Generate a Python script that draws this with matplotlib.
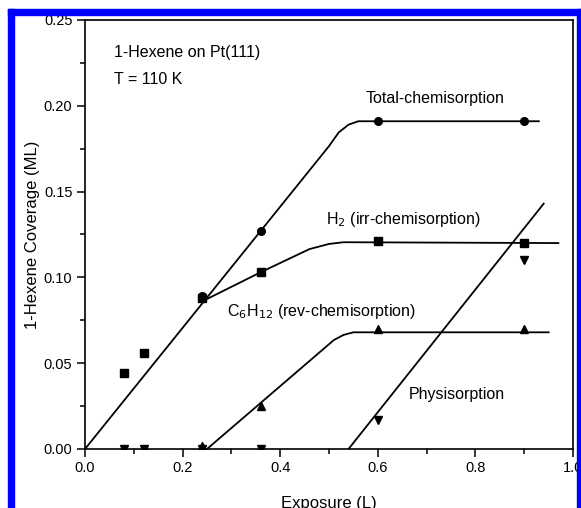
import matplotlib
matplotlib.use("Agg")
import matplotlib.pyplot as plt
from matplotlib.patches import Rectangle
import numpy as np

plt.rcParams['font.family'] = ['Liberation Sans', 'DejaVu Sans']

# measured points
total_x = [0.24, 0.36, 0.60, 0.90]
total_y = [0.089, 0.127, 0.191, 0.191]
h2_x = [0.08, 0.12, 0.24, 0.36, 0.60, 0.90]
h2_y = [0.044, 0.056, 0.088, 0.103, 0.121, 0.120]
c6_x = [0.08, 0.12, 0.24, 0.36, 0.60, 0.90]
c6_y = [0.000, 0.000, 0.002, 0.025, 0.070, 0.070]
phys_x = [0.08, 0.12, 0.24, 0.36, 0.60, 0.90]
phys_y = [0.000, 0.000, 0.000, 0.000, 0.017, 0.110]

# guide lines
total_line_x = [0.0, 0.50, 0.52, 0.54, 0.56, 0.93]
total_line_y = [0.0, 0.1765, 0.1845, 0.189, 0.191, 0.191]
h2_line_x = [0.24, 0.36, 0.46, 0.50, 0.53, 0.97]
h2_line_y = [0.086, 0.103, 0.1165, 0.1195, 0.1205, 0.120]
c6_line_x = [0.25, 0.51, 0.53, 0.55, 0.95]
c6_line_y = [0.0, 0.0635, 0.0665, 0.068, 0.068]
phys_line_x = [0.54, 0.94]
phys_line_y = [0.0, 0.143]

fig = plt.figure(figsize=(5.81, 5.08), dpi=100)
W, H = 581, 508
ax = fig.add_axes([85 / W, 1 - 449 / H, (573 - 85) / W, (449 - 20) / H])

lk = dict(color='black', lw=1.3)
ax.plot(total_line_x, total_line_y, **lk)
ax.plot(h2_line_x, h2_line_y, **lk)
ax.plot(c6_line_x, c6_line_y, **lk)
ax.plot(phys_line_x, phys_line_y, **lk)

ms = 5.5
ax.plot(total_x, total_y, 'o', color='black', ms=ms, ls='none')
ax.plot(h2_x, h2_y, 's', color='black', ms=ms, ls='none')
ax.plot(c6_x, c6_y, '^', color='black', ms=ms + 0.5, ls='none')
ax.plot(phys_x, phys_y, 'v', color='black', ms=ms + 0.5, ls='none')

ax.set_xlim(0, 1.0)
ax.set_ylim(0, 0.25)
ax.set_xticks([0.0, 0.2, 0.4, 0.6, 0.8, 1.0])
ax.set_xticklabels(['0.0', '0.2', '0.4', '0.6', '0.8', '1.0'])
ax.set_xticks(np.arange(0.1, 1.0, 0.2), minor=True)
ax.set_yticks([0.0, 0.05, 0.10, 0.15, 0.20, 0.25])
ax.set_yticklabels(['0.00', '0.05', '0.10', '0.15', '0.20', '0.25'])
ax.set_yticks(np.arange(0.025, 0.25, 0.05), minor=True)
ax.tick_params(which='major', direction='out', length=6, width=1.1, labelsize=10.5, pad=3)
ax.tick_params(which='minor', direction='out', length=3.5, width=1.1)
for s in ax.spines.values():
    s.set_linewidth(1.2)

ax.set_xlabel('Exposure (L)', fontsize=12, labelpad=15)
ax.set_ylabel('1-Hexene Coverage (ML)', fontsize=12, labelpad=3)

fs = 11.5
ax.text(0.06, 0.925, '1-Hexene on Pt(111)', transform=ax.transAxes, fontsize=fs, va='center')
ax.text(0.06, 0.862, 'T = 110 K', transform=ax.transAxes, fontsize=fs, va='center')
ax.text(0.575, 0.204, 'Total-chemisorption', fontsize=fs, va='center')
ax.text(0.494, 0.134, r'H$_2$ (irr-chemisorption)', fontsize=fs, va='center')
ax.text(0.292, 0.080, r'C$_6$H$_{12}$ (rev-chemisorption)', fontsize=fs, va='center')
ax.text(0.664, 0.032, 'Physisorption', fontsize=fs, va='center')

# blue frame of the source picture
blue = '#0000ff'
fig.patches.append(Rectangle((0, 1 - 9 / H), 1, 9 / H, transform=fig.transFigure,
                             color='white', zorder=10))
fig.patches.append(Rectangle((0, 0), 8 / W, 1, transform=fig.transFigure,
                             color='white', zorder=10))
fig.patches.append(Rectangle((8 / W, 0), 6 / W, 1 - 9 / H, transform=fig.transFigure,
                             color=blue, zorder=11))
fig.patches.append(Rectangle((8 / W, 1 - 15 / H), 1, 6 / H, transform=fig.transFigure,
                             color=blue, zorder=11))
fig.patches.append(Rectangle((577 / W, 0), 4 / W, 1 - 9 / H, transform=fig.transFigure,
                             color=blue, zorder=11))

fig.savefig('out.png', dpi=100)
